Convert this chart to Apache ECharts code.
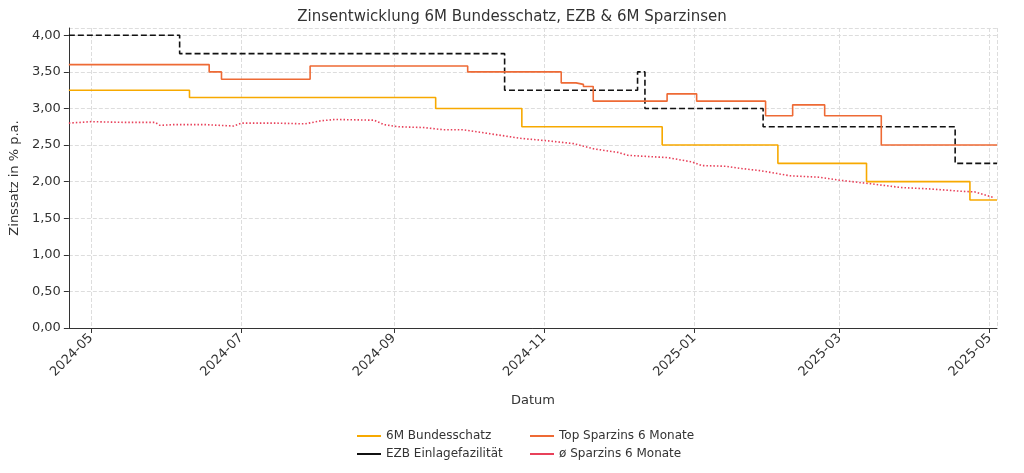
<!DOCTYPE html>
<html><head><meta charset="utf-8">
<script src="https://cdn.jsdelivr.net/npm/echarts@6/dist/echarts.min.js"></script>
<style>html,body{margin:0;padding:0;background:#fff}#c{width:1024px;height:473px}</style>
</head><body><div id="c"></div>
<script>
// step series: value holds from each date until the next one
const bundDates = ['2024-04-22','2024-06-10','2024-09-18','2024-10-23','2024-12-19','2025-02-04','2025-03-12','2025-04-23','2025-05-04'];
const bundVals  = [3.25, 3.15, 3.00, 2.75, 2.50, 2.25, 2.00, 1.75, 1.75];

const ezbDates = ['2024-04-22','2024-06-06','2024-10-16','2024-12-09','2024-12-12','2025-01-29','2025-04-17','2025-05-04'];
const ezbVals  = [4.00, 3.75, 3.25, 3.50, 3.00, 2.75, 2.25, 2.25];

const topDates = ['2024-04-22','2024-06-18','2024-06-23','2024-07-29','2024-10-01','2024-11-08','2024-11-14','2024-11-17','2024-11-21','2024-12-21','2025-01-02','2025-01-30','2025-02-10','2025-02-23','2025-03-18','2025-05-04'];
const topVals  = [3.60, 3.50, 3.40, 3.58, 3.50, 3.35, 3.33, 3.30, 3.10, 3.20, 3.10, 2.90, 3.05, 2.90, 2.50, 2.50];

const avgDates = ['2024-04-22','2024-05-01','2024-05-15','2024-05-27','2024-05-29','2024-06-04','2024-06-16','2024-06-28','2024-07-01','2024-07-15','2024-07-27','2024-08-02','2024-08-08','2024-08-24','2024-08-28','2024-09-03','2024-09-13','2024-09-21','2024-09-29','2024-10-11','2024-10-23','2024-11-02','2024-11-13','2024-11-21','2024-12-01','2024-12-05','2024-12-15','2024-12-21','2024-12-31','2025-01-04','2025-01-14','2025-01-20','2025-01-28','2025-02-09','2025-02-21','2025-03-01','2025-03-14','2025-03-26','2025-04-07','2025-04-19','2025-04-25','2025-05-03'];
const avgVals  = [2.80, 2.82, 2.81, 2.81, 2.77, 2.78, 2.78, 2.76, 2.80, 2.80, 2.79, 2.83, 2.85, 2.84, 2.78, 2.75, 2.74, 2.71, 2.71, 2.65, 2.59, 2.56, 2.52, 2.45, 2.40, 2.36, 2.34, 2.33, 2.27, 2.22, 2.21, 2.18, 2.15, 2.08, 2.06, 2.02, 1.97, 1.92, 1.90, 1.87, 1.86, 1.78];

const zip = (d, v) => d.map((x, i) => [x, v[i]]);
const font = 'DejaVu Sans';
const DAY = 86400000;
const chart = echarts.init(document.getElementById('c'));
chart.setOption({
  animation: false,
  textStyle: { fontFamily: font },
  title: { text: 'Zinsentwicklung 6M Bundesschatz, EZB & 6M Sparzinsen', left: 'center', top: 5,
    textStyle: { fontFamily: font, fontSize: 15, fontWeight: 'normal', color: '#333' } },
  grid: { left: 62, right: 27, top: 28, bottom: 145 },
  xAxis: {
    type: 'time', min: '2024-04-22', max: '2025-05-04',
    minInterval: 59 * DAY, maxInterval: 62 * DAY,
    name: 'Datum', nameLocation: 'middle', nameGap: 66, nameTextStyle: { fontSize: 13, color: '#333' },
    axisLine: { lineStyle: { color: '#333' } },
    axisTick: { show: true, lineStyle: { color: '#333' } },
    axisLabel: { rotate: 45, fontSize: 13, color: '#333', hideOverlap: false,
      formatter: v => { const d = new Date(v); return d.getFullYear() + '-' + String(d.getMonth() + 1).padStart(2, '0'); } },
    splitLine: { show: true, lineStyle: { type: 'dashed', color: '#ddd' } }
  },
  yAxis: {
    type: 'value', min: 0, max: 4.1, interval: 0.5,
    name: 'Zinssatz in % p.a.', nameLocation: 'middle', nameGap: 46, nameTextStyle: { fontSize: 13, color: '#333' },
    axisLine: { show: true, lineStyle: { color: '#333' } },
    axisTick: { show: true },
    axisLabel: { fontSize: 13, color: '#333', showMaxLabel: false, formatter: v => v.toFixed(2).replace('.', ',') },
    splitLine: { lineStyle: { type: 'dashed', color: '#ddd' } }
  },
  legend: [
    { orient: 'vertical', left: 352, top: 425, itemGap: 6, itemWidth: 24, itemHeight: 10, icon: 'path://M0,0H24V2H0Z',
      textStyle: { fontSize: 12, color: '#333' }, data: ['6M Bundesschatz', 'EZB Einlagefazilität'] },
    { orient: 'vertical', left: 525, top: 425, itemGap: 6, itemWidth: 24, itemHeight: 10, icon: 'path://M0,0H24V2H0Z',
      textStyle: { fontSize: 12, color: '#333' }, data: ['Top Sparzins 6 Monate', 'ø Sparzins 6 Monate'] }
  ],
  series: [
    { name: '6M Bundesschatz', type: 'line', step: 'end', symbol: 'none', color: '#F7A900',
      lineStyle: { width: 1.6 }, data: zip(bundDates, bundVals) },
    { name: 'EZB Einlagefazilität', type: 'line', step: 'end', symbol: 'none', color: '#111',
      lineStyle: { width: 1.6, type: [6, 3] }, data: zip(ezbDates, ezbVals) },
    { name: 'Top Sparzins 6 Monate', type: 'line', step: 'end', symbol: 'none', color: '#EE6A35',
      lineStyle: { width: 1.6 }, data: zip(topDates, topVals) },
    { name: 'ø Sparzins 6 Monate', type: 'line', symbol: 'none', color: '#E8415A',
      lineStyle: { width: 1.6, type: [1.5, 2] }, data: zip(avgDates, avgVals) }
  ]
});
</script></body></html>
